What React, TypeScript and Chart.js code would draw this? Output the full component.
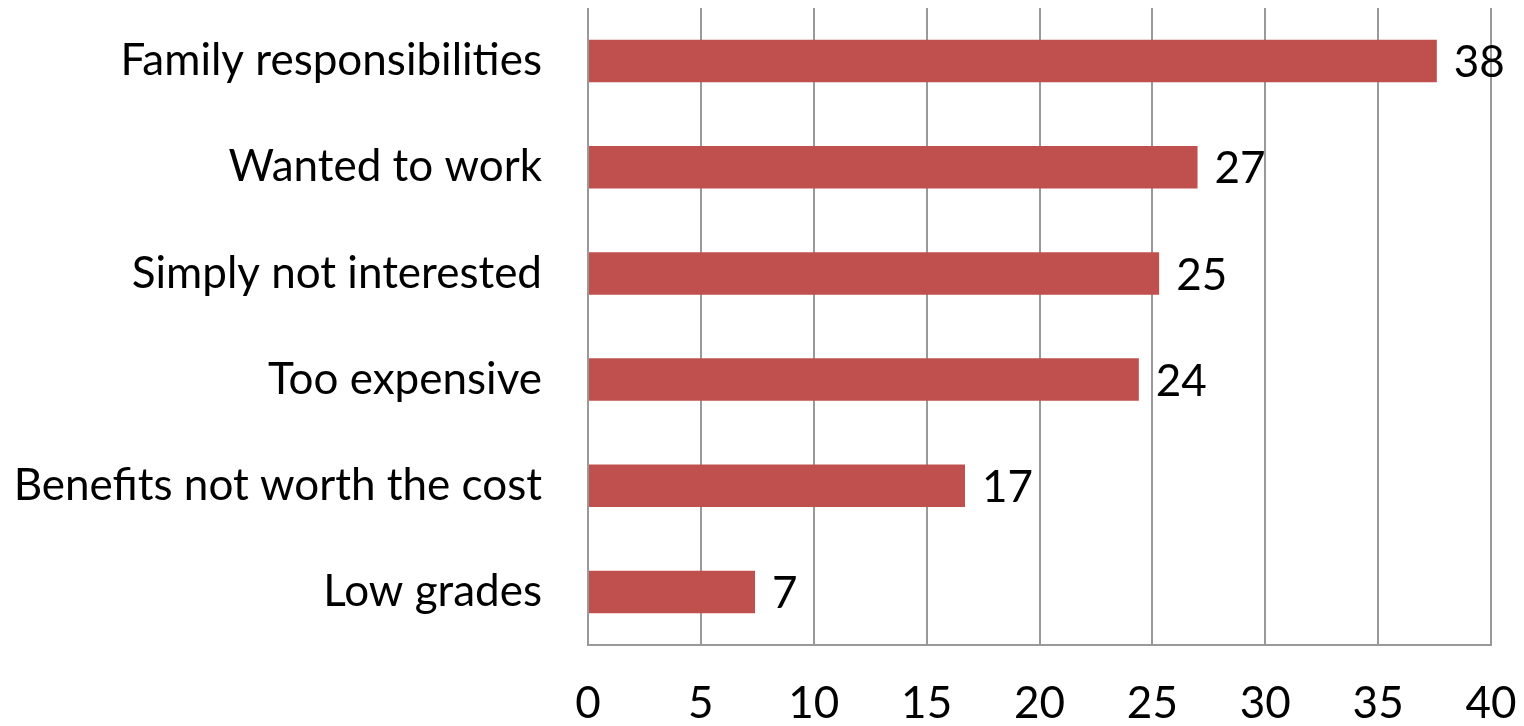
import React, { useEffect, useRef } from "react";
import { Chart, registerables } from "chart.js";

Chart.register(...registerables);

const categories = [
  "Family responsibilities",
  "Wanted to work",
  "Simply not interested",
  "Too expensive",
  "Benefits not worth the cost",
  "Low grades",
];
const values = [37.6, 27.0, 25.3, 24.4, 16.7, 7.4];
const xMin = 0;
const xMax = 40;
const xStep = 5;

const FONT = "Lato, 'Open Sans', sans-serif";
const FONT_SIZE = 44;

const valueLabels = {
  id: "valueLabels",
  afterDatasetsDraw(chart: any) {
    const ctx = chart.ctx;
    const meta = chart.getDatasetMeta(0);
    ctx.save();
    ctx.font = `${FONT_SIZE}px ${FONT}`;
    ctx.fillStyle = "#000";
    ctx.textAlign = "left";
    ctx.textBaseline = "middle";
    meta.data.forEach((bar: any, i: number) => {
      ctx.fillText(String(Math.round(values[i])), bar.x + 17, bar.y + 2);
    });
    ctx.restore();
  },
};

export default function App() {
  const ref = useRef<HTMLCanvasElement | null>(null);
  useEffect(() => {
    if (!ref.current) return;
    const chart = new Chart(ref.current, {
      type: "bar",
      data: {
        labels: categories,
        datasets: [
          {
            data: values,
            backgroundColor: "#C0504D",
            borderWidth: 0,
            barPercentage: 0.4,
            categoryPercentage: 1,
          },
        ],
      },
      options: {
        indexAxis: "y",
        animation: false,
        responsive: true,
        maintainAspectRatio: false,
        layout: { padding: { top: 0, right: 25, left: 0, bottom: 0 } },
        plugins: {
          legend: { display: false },
          tooltip: { enabled: false },
        },
        scales: {
          x: {
            min: xMin,
            max: xMax,
            ticks: {
              stepSize: xStep,
              padding: 32,
              color: "#000",
              font: { family: FONT, size: FONT_SIZE },
            },
            grid: { color: "#999999", lineWidth: 2, drawTicks: false },
            border: { color: "#999999", width: 2 },
            afterFit: (s: any) => {
              s.height = 73;
              s.paddingLeft = 0;
              s.paddingRight = 0;
              s.paddingTop = 0;
              s.paddingBottom = 0;
            },
          },
          y: {
            ticks: {
              padding: 46,
              color: "#000",
              font: { family: FONT, size: FONT_SIZE },
            },
            grid: { display: false, drawTicks: false },
            border: { color: "#999999", width: 2 },
            afterFit: (s: any) => {
              s.width = 580;
              s.paddingLeft = 0;
              s.paddingRight = 0;
              s.paddingTop = 0;
              s.paddingBottom = 0;
            },
          },
        },
      },
      plugins: [valueLabels],
    });
    return () => chart.destroy();
  }, []);
  return (
    <div style={{ width: 1508, height: 710 }}>
      <canvas ref={ref} />
    </div>
  );
}
